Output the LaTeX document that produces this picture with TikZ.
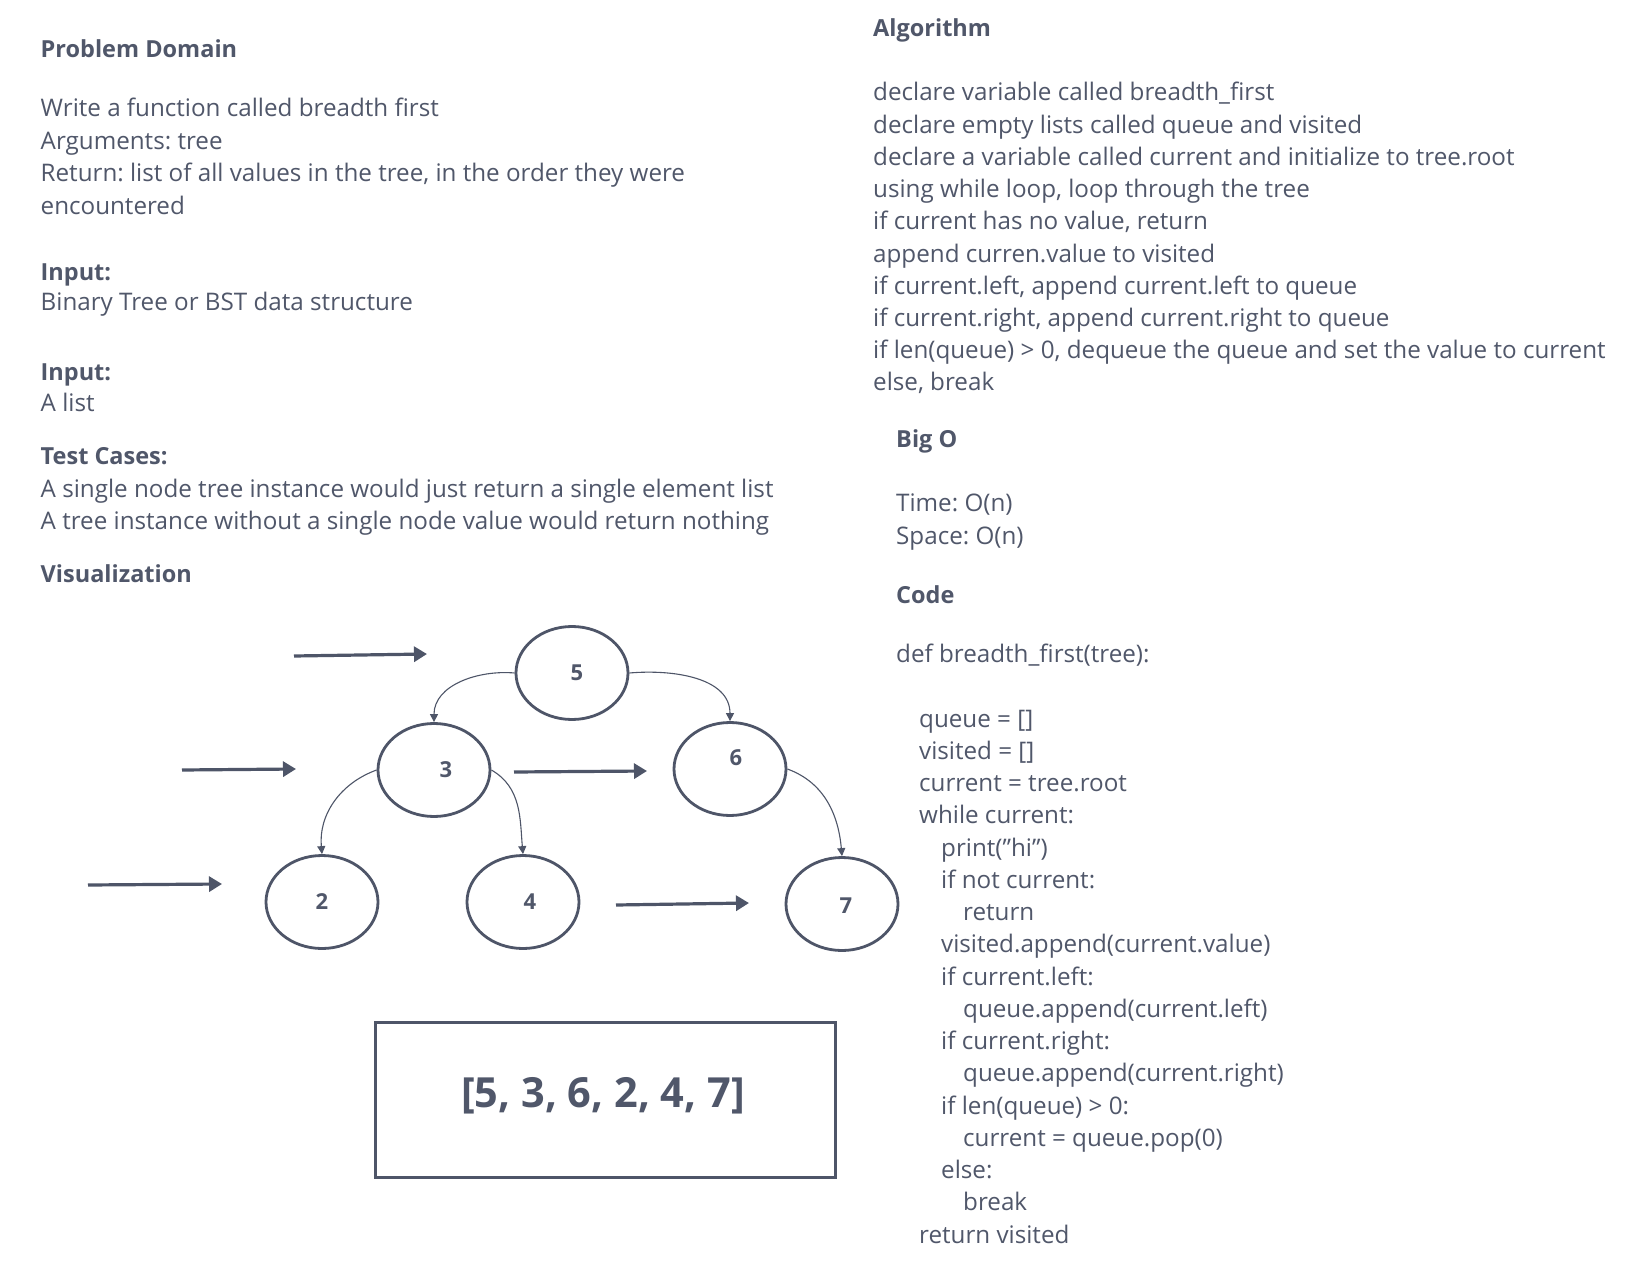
\documentclass[tikz,border=0pt]{standalone}
\usepackage{fontspec}
\setmainfont{Open Sans}
\usetikzlibrary{arrows.meta,shapes.geometric}
\definecolor{ink}{RGB}{80,87,106}
\definecolor{lineink}{RGB}{78,85,104}
\frenchspacing
\begin{document}
\begin{tikzpicture}[x=1pt,y=-1pt,
  txt/.style={anchor=base west,inner sep=0pt,text=ink,font=\frenchspacing\fontsize{24.2}{28}\selectfont},
  head/.style={anchor=base west,inner sep=0pt,text=ink,font=\frenchspacing\fontsize{23.5}{28}\selectfont\bfseries},
  tnode/.style={ellipse,draw=lineink,line width=2.8pt,minimum width=112pt,minimum height=93pt,inner sep=0pt},
  nlab/.style={text=ink,font=\fontsize{22}{24}\selectfont\bfseries,inner sep=0pt},
  edge/.style={draw=lineink,line width=1.1pt,-{Triangle[length=8pt,width=8pt]}},
  level/.style={draw=lineink,line width=3.2pt,-{Triangle[length=13pt,width=15pt]}},
  resbox/.style={draw=lineink,line width=3pt,minimum width=460pt,minimum height=155pt,inner sep=0pt}
]
\useasboundingbox[fill=white] (0,0) rectangle (1626,1268);

% ---------- left column ----------
\node[head] (pd) at (40.5,58) {Problem Domain};
\node[txt] (l1) at (40.5,117) {Write a function called breadth first};
\node[txt] (l2) at (40.5,149.5) {Arguments: tree};
\node[txt] (l3) at (40.5,182) {Return: list of all values in the tree, in the order they were};
\node[txt] (l4) at (40.5,214.5) {encountered};
\node[head] (in1) at (40.5,280) {Input:};
\node[txt] (in1t) at (40.5,311) {Binary Tree or BST data structure};
\node[head] (in2) at (40.5,380) {Input:};
\node[txt] (in2t) at (40.5,411) {A list};
\node[head] (tc) at (40.5,464) {Test Cases:};
\node[txt] (tc1) at (40.5,497) {A single node tree instance would just return a single element list};
\node[txt] (tc2) at (40.5,529) {A tree instance without a single node value would return nothing};
\node[head] (vis) at (40.5,582) {Visualization};

% ---------- right column: algorithm ----------
\node[head] (alg) at (873,37) {Algorithm};
\node[txt] (a0) at (873,101) {declare variable called breadth\_first};
\node[txt] (a1) at (873,133.2) {declare empty lists called queue and visited};
\node[txt] (a2) at (873,165.4) {declare a variable called current and initialize to tree.root};
\node[txt] (a3) at (873,197.6) {using while loop, loop through the tree};
\node[txt] (a4) at (873,229.8) {if current has no value, return};
\node[txt] (a5) at (873,262) {append curren.value to visited};
\node[txt] (a6) at (873,294.2) {if current.left, append current.left to queue};
\node[txt] (a7) at (873,326.4) {if current.right, append current.right to queue};
\node[txt] (a8) at (873,358.6) {if len(queue) > 0, dequeue the queue and set the value to current};
\node[txt] (a9) at (873,390.8) {else, break};

% ---------- Big O / Code ----------
\node[head] (bigo) at (896,447) {Big O};
\node[txt] (time) at (896,511) {Time: O(n)};
\node[txt] (space) at (896,544) {Space: O(n)};
\node[head] (code) at (896,603) {Code};
\node[txt] (c0) at (896,662) {def breadth\_first(tree):};
\node[txt] (c1) at (919,727) {queue = []};
\node[txt] (c2) at (919,759.25) {visited = []};
\node[txt] (c3) at (919,791.5) {current = tree.root};
\node[txt] (c4) at (919,823.75) {while current:};
\node[txt] (c5) at (941,856) {print({\char34}hi{\char34})};
\node[txt] (c6) at (941,888.25) {if not current:};
\node[txt] (c7) at (963,920.5) {return};
\node[txt] (c8) at (941,952.75) {visited.append(current.value)};
\node[txt] (c9) at (941,985) {if current.left:};
\node[txt] (c10) at (963,1017.25) {queue.append(current.left)};
\node[txt] (c11) at (941,1049.5) {if current.right:};
\node[txt] (c12) at (963,1081.75) {queue.append(current.right)};
\node[txt] (c13) at (941,1114) {if len(queue) > 0:};
\node[txt] (c14) at (963,1146.25) {current = queue.pop(0)};
\node[txt] (c15) at (941,1178.5) {else:};
\node[txt] (c16) at (963,1210.75) {break};
\node[txt] (c17) at (919,1243) {return visited};

% ---------- tree ----------
\node[tnode,label={[nlab,xshift=5pt]center:5}] (n5) at (572,673) {};
\node[tnode,label={[nlab,xshift=12pt]center:3}] (n3) at (434,770) {};
\node[tnode,label={[nlab,xshift=6pt,yshift=11pt]center:6}] (n6) at (730,769) {};
\node[tnode,label={[nlab]center:2}] (n2) at (322,902) {};
\node[tnode,label={[nlab,xshift=7pt]center:4}] (n4) at (523,902) {};
\node[tnode,label={[nlab,xshift=4pt,yshift=-2pt]center:7}] (n7) at (842,904) {};

\draw[edge] (n5.west) to[out=175,in=90] (n3.north);
\draw[edge] (n5.east) to[out=5,in=90] (n6.north);
\draw[edge] (n3.west) to[out=200,in=95] (n2.north);
\draw[edge] (n3.east) to[out=-30,in=95] (n4.north);
\draw[edge] (n6.east) to[out=-20,in=95] (n7.north);

% level arrows
\coordinate (r1s) at (294,656); \coordinate (r1e) at (427,654);
\coordinate (r2s) at (182,770); \coordinate (r2e) at (296,769);
\coordinate (r3s) at (514,772); \coordinate (r3e) at (647,771);
\coordinate (r4s) at (88,885);  \coordinate (r4e) at (222,884);
\coordinate (r5s) at (616,905); \coordinate (r5e) at (749,903);
\draw[level] (r1s) -- (r1e);
\draw[level] (r2s) -- (r2e);
\draw[level] (r3s) -- (r3e);
\draw[level] (r4s) -- (r4e);
\draw[level] (r5s) -- (r5e);

% result box
\node[resbox] (box) at (605,1099.5) {};
\node[text=ink,font=\fontsize{41.5}{46}\selectfont\bfseries,inner sep=0pt] (res) at (603,1096) {[5, 3, 6, 2, 4, 7]};
\end{tikzpicture}
\end{document}
